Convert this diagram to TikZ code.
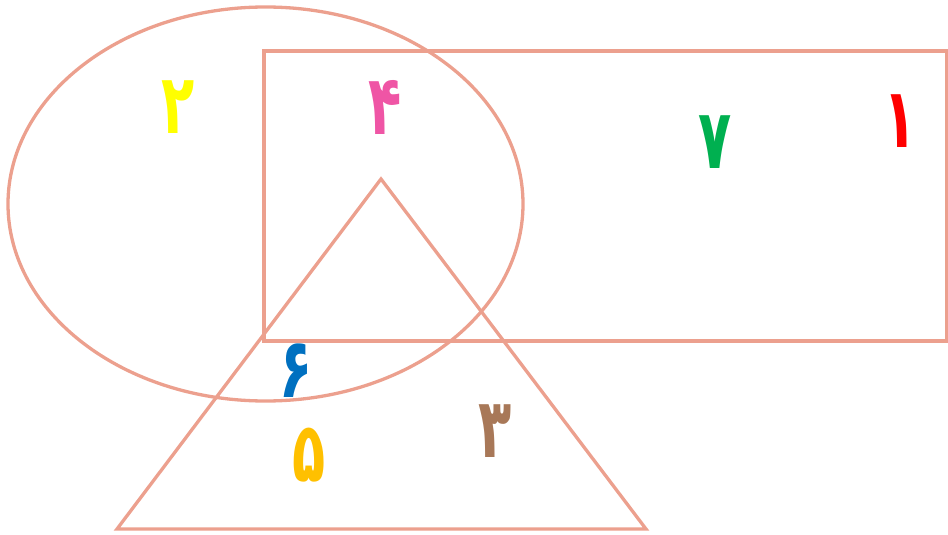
\documentclass[tikz,border=0pt]{standalone}
\usepackage{fontspec}
\newfontfamily\pfont[Script=Arabic]{DejaVu Sans}
\definecolor{shape}{RGB}{236,160,142}
\definecolor{dyellow}{RGB}{255,255,0}
\definecolor{dpink}{RGB}{239,85,165}
\definecolor{dgreen}{RGB}{0,176,80}
\definecolor{dred}{RGB}{255,0,0}
\definecolor{dblue}{RGB}{0,112,192}
\definecolor{dorange}{RGB}{255,192,0}
\definecolor{dbrown}{RGB}{168,120,88}
\newcommand{\dg}[1]{\scalebox{0.85}[1.3]{#1}}
\tikzset{
  outline/.style={draw=shape, line width=3.3pt},
  digit/.style={inner sep=0pt, font=\pfont\bfseries\fontsize{64}{64}\selectfont}
}
\begin{document}
\begin{tikzpicture}[x=1pt,y=-1pt]
\useasboundingbox (0,0) rectangle (948,535);
\draw[outline] (265.5,204) ellipse [x radius=257.5, y radius=197];
\draw[outline] (264,51) rectangle (946.5,341);
\draw[outline] (381,179) -- (646,529) -- (117,529) -- cycle;
\node[digit, text=dyellow] (d2) at (178,107) {\dg{۲}};
\node[digit, text=dpink] (d4) at (385,107) {\dg{۴}};
\node[digit, text=dgreen] (d7) at (715,142) {\dg{۷}};
\node[digit, text=dred] (d1) at (900,121) {\dg{۱}};
\node[digit, text=dblue] (d6) at (296,371) {\dg{۶}};
\node[digit, text=dorange] (d5) at (309,455) {\dg{۵}};
\node[digit, text=dbrown] (d3) at (495,431) {\dg{۳}};
\end{tikzpicture}
\end{document}
